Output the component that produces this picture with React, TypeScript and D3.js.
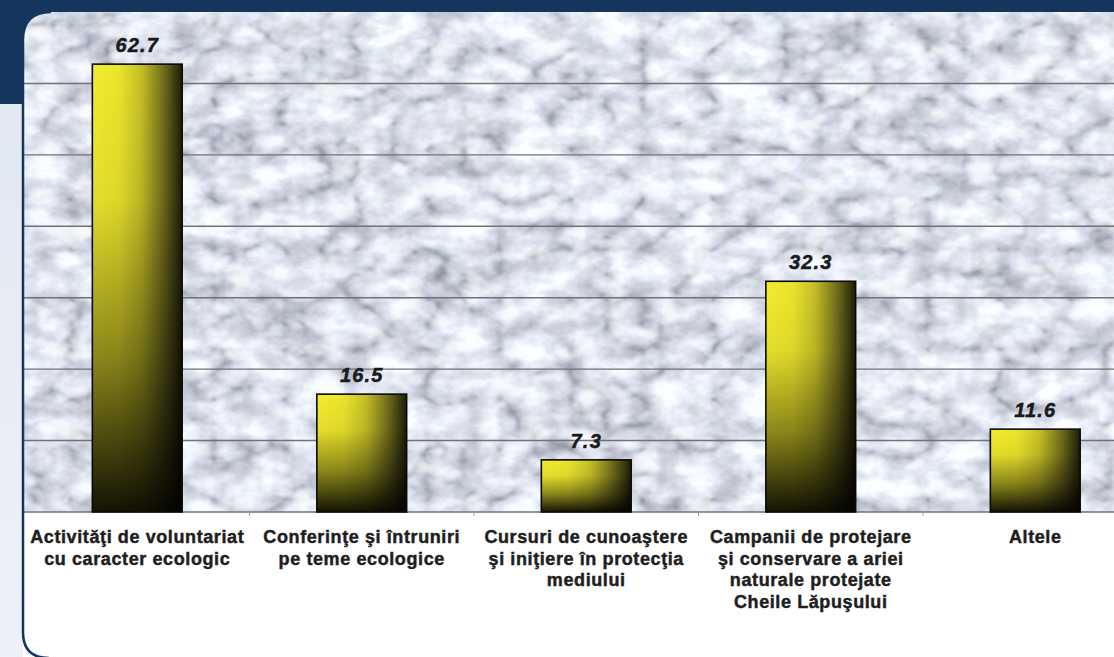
import React from "react";
import * as d3 from "d3";

const categories = [
  "Activităţi de voluntariat cu caracter ecologic",
  "Conferinţe şi întruniri pe teme ecologice",
  "Cursuri de cunoaştere şi iniţiere în protecţia mediului",
  "Campanii de protejare şi conservare a ariei naturale protejate Cheile Lăpuşului",
  "Altele",
];
const labelLines = [
  ["Activităţi de voluntariat", "cu caracter ecologic"],
  ["Conferinţe şi întruniri", "pe teme ecologice"],
  ["Cursuri de cunoaştere", "şi iniţiere în protecţia", "mediului"],
  ["Campanii de protejare", "şi conservare a ariei", "naturale protejate", "Cheile Lăpuşului"],
  ["Altele"],
];
const values = [62.7, 16.5, 7.3, 32.3, 11.6];
const valueLabels = ["62.7", "16.5", "7.3", "32.3", "11.6"];
const gridTicks = [10, 20, 30, 40, 50, 60];

const W = 1114;
const H = 657;
const NAVY = "#14365c";
const PANEL_X = 23;
const PANEL_Y = 12;
const BASE_Y = 512;

export default function App() {
  const x = d3
    .scaleBand<string>()
    .domain(categories)
    .range([25, 1147.5])
    .paddingInner(0.6)
    .paddingOuter(0.3);
  const y = d3.scaleLinear().domain([0, 70]).range([BASE_Y, PANEL_Y]);
  const bw = x.bandwidth();
  const step = x.step();

  const panelPath = `M${PANEL_X},${H + 2} L${PANEL_X},${PANEL_Y + 28} Q${PANEL_X},${PANEL_Y} ${PANEL_X + 28},${PANEL_Y} L${W + 10},${PANEL_Y} L${W + 10},${H + 2} Z`;
  const panelOutline = `M${PANEL_X + 26},${H + 1} Q${PANEL_X},${H + 1} ${PANEL_X},${H - 25} L${PANEL_X},${PANEL_Y + 28} Q${PANEL_X},${PANEL_Y} ${PANEL_X + 28},${PANEL_Y}`;

  return (
    <svg
      width={W}
      height={H}
      style={{ position: "absolute", left: 0, top: 0, display: "block" }}
      fontFamily="'Liberation Sans', Arial, sans-serif"
    >
      <defs>
        <linearGradient id="leftBg" x1="0" y1="0" x2="0" y2="1">
          <stop offset="0" stopColor="#e2e8f2" />
          <stop offset="1" stopColor="#eef2f8" />
        </linearGradient>
        <clipPath id="panelClip">
          <path d={`M${PANEL_X},${H - 25} Q${PANEL_X},${H + 1} ${PANEL_X + 26},${H + 1} L${W + 10},${H + 1} L${W + 10},${PANEL_Y} L${PANEL_X + 28},${PANEL_Y} Q${PANEL_X},${PANEL_Y} ${PANEL_X},${PANEL_Y + 28} Z`} />
        </clipPath>
        <filter
          id="marble"
          filterUnits="userSpaceOnUse"
          x={PANEL_X}
          y={PANEL_Y}
          width={W - PANEL_X}
          height={BASE_Y - PANEL_Y}
          colorInterpolationFilters="sRGB"
        >
          <feTurbulence type="turbulence" baseFrequency="0.014 0.02" numOctaves="4" seed="7" result="t1" />
          <feColorMatrix in="t1" type="matrix" values="1 0 0 0 0  1 0 0 0 0  1 0 0 0 0  0 0 0 0 1" result="g1" />
          <feComponentTransfer in="g1" result="veinsSharp">
            <feFuncR type="table" tableValues="0.62 0.82 0.92 0.96 0.98 0.99 0.99 0.99 0.99 0.99" />
            <feFuncG type="table" tableValues="0.63 0.83 0.93 0.97 0.99 1 1 1 1 1" />
            <feFuncB type="table" tableValues="0.67 0.86 0.95 0.99 1 1 1 1 1 1" />
          </feComponentTransfer>
          <feGaussianBlur in="veinsSharp" stdDeviation="0.9" result="veins" />
          <feTurbulence type="fractalNoise" baseFrequency="0.035 0.05" numOctaves="4" seed="11" result="t2" />
          <feColorMatrix in="t2" type="matrix" values="1 0 0 0 0  1 0 0 0 0  1 0 0 0 0  0 0 0 0 1" result="g2" />
          <feComponentTransfer in="g2" result="mottle">
            <feFuncR type="linear" slope="0.4" intercept="0.73" />
            <feFuncG type="linear" slope="0.4" intercept="0.74" />
            <feFuncB type="linear" slope="0.4" intercept="0.77" />
          </feComponentTransfer>
          <feBlend in="veins" in2="mottle" mode="multiply" />
        </filter>
        <linearGradient id="barH" x1="0" y1="0" x2="1" y2="0">
          <stop offset="0" stopColor="#f4ec2e" />
          <stop offset="0.3" stopColor="#ebe42b" />
          <stop offset="0.55" stopColor="#c4be26" />
          <stop offset="0.8" stopColor="#6e6a1c" />
          <stop offset="1" stopColor="#1c1c0a" />
        </linearGradient>
        <linearGradient id="barV" x1="0" y1="0" x2="0" y2="1">
          <stop offset="0" stopColor="#000" stopOpacity="0" />
          <stop offset="0.3" stopColor="#000" stopOpacity="0.06" />
          <stop offset="0.65" stopColor="#000" stopOpacity="0.42" />
          <stop offset="1" stopColor="#000" stopOpacity="0.92" />
        </linearGradient>
      </defs>

      {/* background */}
      <rect x={0} y={0} width={W} height={H} fill={NAVY} />
      <rect x={0} y={104} width={PANEL_X + 2} height={H - 104} fill="url(#leftBg)" />

      {/* panel */}
      <path d={panelPath} fill="#ffffff" />
      <g clipPath="url(#panelClip)">
        <rect
          x={PANEL_X}
          y={PANEL_Y}
          width={W - PANEL_X}
          height={BASE_Y - PANEL_Y}
          fill="#e0e2e6"
          filter="url(#marble)"
        />
        {gridTicks.map((t) => (
          <line key={t} x1={PANEL_X} x2={W} y1={y(t)} y2={y(t)} stroke="#707276" strokeWidth={1.4} />
        ))}
        <line x1={PANEL_X} x2={W} y1={BASE_Y} y2={BASE_Y} stroke="#707276" strokeWidth={1.6} />
        {categories.slice(0, -1).map((c) => {
          const tx = (x(c) ?? 0) + bw / 2 + step / 2;
          return <line key={"tk" + c} x1={tx} x2={tx} y1={BASE_Y} y2={BASE_Y + 4} stroke="#9a9ca0" strokeWidth={1} />;
        })}
      </g>
      <path d={panelOutline} fill="none" stroke={NAVY} strokeWidth={2.5} />

      {/* bars */}
      {categories.map((c, i) => {
        const bx = x(c) ?? 0;
        const by = y(values[i]);
        const bh = BASE_Y - by;
        return (
          <g key={c}>
            <rect x={bx} y={by} width={bw} height={bh} fill="url(#barH)" />
            <rect x={bx} y={by} width={bw} height={bh} fill="url(#barV)" stroke="#0a0a05" strokeWidth={1.6} />
            <text
              x={bx + bw / 2}
              y={by - 12}
              textAnchor="middle"
              fontSize={20}
              fontWeight="bold"
              fontStyle="italic"
              letterSpacing={1.2}
              fill="#1a1a1c"
              stroke="#1a1a1c"
              strokeWidth={0.5}
            >
              {valueLabels[i]}
            </text>
          </g>
        );
      })}

      {/* category labels */}
      {categories.map((c, i) => {
        const cx = (x(c) ?? 0) + bw / 2;
        return (
          <text
            key={"l" + c}
            textAnchor="middle"
            fontSize={18}
            fontWeight="bold"
            fill="#1e1e1e"
            stroke="#1e1e1e"
            strokeWidth={0.45}
            letterSpacing={0.6}
          >
            {labelLines[i].map((ln, j) => (
              <tspan key={j} x={cx} y={543 + j * 21.5}>
                {ln}
              </tspan>
            ))}
          </text>
        );
      })}
    </svg>
  );
}
